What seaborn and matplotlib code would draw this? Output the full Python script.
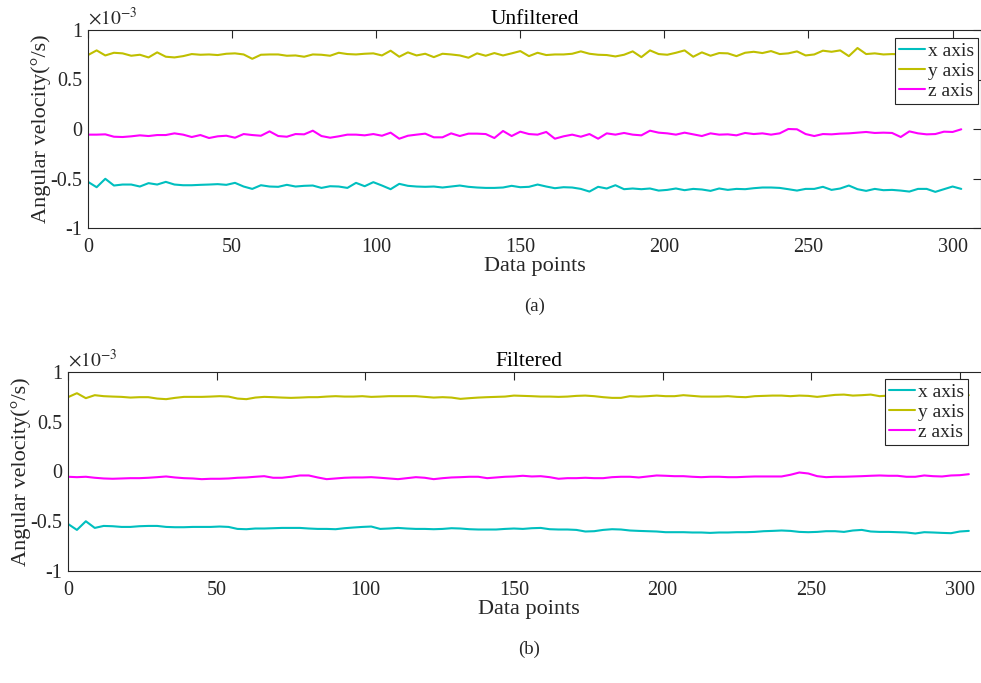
import matplotlib
matplotlib.use('Agg')
import matplotlib.pyplot as plt
from matplotlib.ticker import FuncFormatter
import numpy as np
import pandas as pd
import seaborn as sns

# data points 0, 3, ..., 303 ; angular velocity in units of 1e-3 deg/s
data_points = np.arange(102) * 3
scale = 1e-3

raw_x = [-0.534, -0.588, -0.503, -0.571, -0.561, -0.561, -0.581, -0.547, -0.561, -0.534,
         -0.561, -0.568, -0.568, -0.564, -0.561, -0.557, -0.564, -0.544, -0.581, -0.605,
         -0.568, -0.581, -0.584, -0.564, -0.581, -0.574, -0.571, -0.595, -0.578, -0.581,
         -0.595, -0.544, -0.578, -0.537, -0.571,
         -0.608, -0.554, -0.574, -0.581, -0.584, -0.581, -0.591, -0.581, -0.571, -0.584,
         -0.591, -0.595, -0.595, -0.591, -0.574, -0.588, -0.584, -0.561, -0.581, -0.598,
         -0.588, -0.591, -0.605, -0.632, -0.584, -0.601, -0.568, -0.608, -0.601, -0.608,
         -0.601, -0.622, -0.615,
         -0.601, -0.618, -0.605, -0.611, -0.625, -0.601, -0.615, -0.605, -0.608, -0.598,
         -0.591, -0.591, -0.595, -0.608, -0.622, -0.605, -0.605, -0.584, -0.615, -0.601,
         -0.571, -0.608, -0.625, -0.605, -0.618, -0.615, -0.622, -0.632, -0.605, -0.605,
         -0.635, -0.608, -0.581, -0.605]
raw_y = [0.747, 0.794, 0.743, 0.770, 0.764, 0.740, 0.750, 0.723, 0.774, 0.730,
         0.723, 0.736, 0.757, 0.750, 0.753, 0.747, 0.760, 0.764, 0.753, 0.709,
         0.750, 0.753, 0.753, 0.740, 0.743, 0.730, 0.753, 0.750, 0.740, 0.770,
         0.757, 0.753, 0.760, 0.764, 0.743,
         0.791, 0.730, 0.774, 0.743, 0.760, 0.726, 0.760, 0.753, 0.743, 0.720,
         0.764, 0.740, 0.767, 0.743, 0.764, 0.787, 0.736, 0.770, 0.747, 0.753,
         0.753, 0.760, 0.784, 0.760, 0.750, 0.747, 0.733, 0.750, 0.784, 0.726,
         0.794, 0.757, 0.750,
         0.770, 0.794, 0.730, 0.774, 0.740, 0.767, 0.764, 0.736, 0.770, 0.780,
         0.767, 0.787, 0.757, 0.764, 0.784, 0.743, 0.753, 0.791, 0.780, 0.794,
         0.736, 0.818, 0.757, 0.764, 0.753, 0.757, 0.755, 0.760, 0.750, 0.757,
         0.752, 0.760, 0.755, 0.758]
raw_z = [-0.057, -0.057, -0.054, -0.078, -0.081, -0.074, -0.064, -0.071, -0.061, -0.061,
         -0.044, -0.057, -0.081, -0.061, -0.091, -0.074, -0.068, -0.088, -0.051, -0.061,
         -0.068, -0.024, -0.071, -0.078, -0.051, -0.054, -0.017, -0.071, -0.088, -0.074,
         -0.057, -0.057, -0.064, -0.051, -0.068,
         -0.037, -0.098, -0.068, -0.057, -0.047, -0.084, -0.084, -0.044, -0.071, -0.047,
         -0.047, -0.051, -0.091, -0.020, -0.071, -0.027, -0.051, -0.057, -0.030, -0.098,
         -0.074, -0.057, -0.078, -0.051, -0.098, -0.044, -0.057, -0.040, -0.057, -0.064,
         -0.017, -0.037, -0.044,
         -0.057, -0.037, -0.054, -0.071, -0.044, -0.057, -0.054, -0.064, -0.040, -0.051,
         -0.044, -0.057, -0.044, 0.000, -0.003, -0.051, -0.071, -0.051, -0.054, -0.047,
         -0.044, -0.037, -0.030, -0.040, -0.037, -0.040, -0.081, -0.024, -0.044, -0.054,
         -0.051, -0.027, -0.030, -0.003]

filt_x = [-0.527, -0.587, -0.500, -0.567, -0.547, -0.550, -0.557, -0.557, -0.550, -0.547,
          -0.547, -0.557, -0.560, -0.560, -0.557, -0.557, -0.557, -0.553, -0.557, -0.577,
          -0.580, -0.573, -0.573, -0.570, -0.567, -0.567, -0.567, -0.573, -0.577, -0.577,
          -0.580, -0.570, -0.563, -0.557, -0.553,
          -0.577, -0.573, -0.567, -0.573, -0.577, -0.577, -0.580, -0.577, -0.570, -0.573,
          -0.580, -0.583, -0.583, -0.583, -0.577, -0.573, -0.577, -0.570, -0.567, -0.580,
          -0.583, -0.583, -0.587, -0.603, -0.600, -0.587, -0.580, -0.583, -0.593, -0.597,
          -0.600, -0.603, -0.610,
          -0.610, -0.610, -0.613, -0.613, -0.617, -0.613, -0.613, -0.610, -0.610, -0.607,
          -0.600, -0.597, -0.593, -0.597, -0.607, -0.610, -0.607, -0.600, -0.600, -0.607,
          -0.593, -0.587, -0.603, -0.607, -0.607, -0.610, -0.613, -0.623, -0.610, -0.613,
          -0.617, -0.620, -0.603, -0.597]
filt_y = [0.747, 0.787, 0.737, 0.767, 0.757, 0.753, 0.750, 0.743, 0.747, 0.747,
          0.733, 0.727, 0.740, 0.750, 0.750, 0.750, 0.753, 0.757, 0.753, 0.733,
          0.727, 0.743, 0.750, 0.747, 0.743, 0.740, 0.743, 0.747, 0.747, 0.753,
          0.757, 0.753, 0.753, 0.757, 0.750,
          0.753, 0.757, 0.757, 0.757, 0.757, 0.750, 0.743, 0.747, 0.743, 0.730,
          0.737, 0.743, 0.747, 0.750, 0.753, 0.763, 0.760, 0.757, 0.753, 0.753,
          0.750, 0.753, 0.760, 0.763, 0.757, 0.747, 0.740, 0.740, 0.757, 0.753,
          0.757, 0.763, 0.757,
          0.757, 0.767, 0.760, 0.753, 0.753, 0.753, 0.757, 0.750, 0.747, 0.757,
          0.760, 0.763, 0.763, 0.757, 0.763, 0.760, 0.750, 0.760, 0.770, 0.773,
          0.763, 0.767, 0.773, 0.757, 0.763, 0.760, 0.765, 0.760, 0.762, 0.765,
          0.760, 0.762, 0.765, 0.767]
filt_z = [-0.053, -0.057, -0.053, -0.063, -0.070, -0.073, -0.070, -0.067, -0.067, -0.063,
          -0.057, -0.050, -0.060, -0.067, -0.070, -0.077, -0.073, -0.073, -0.070, -0.063,
          -0.060, -0.053, -0.047, -0.063, -0.063, -0.053, -0.040, -0.040, -0.060, -0.077,
          -0.070, -0.063, -0.060, -0.060, -0.057,
          -0.063, -0.070, -0.077, -0.067, -0.057, -0.063, -0.077, -0.067, -0.060, -0.057,
          -0.053, -0.053, -0.067, -0.060, -0.053, -0.050, -0.043, -0.050, -0.047, -0.057,
          -0.073, -0.067, -0.067, -0.063, -0.067, -0.067, -0.057, -0.053, -0.053, -0.060,
          -0.050, -0.040, -0.043,
          -0.047, -0.047, -0.053, -0.057, -0.053, -0.053, -0.057, -0.057, -0.053, -0.050,
          -0.050, -0.050, -0.050, -0.033, -0.010, -0.020, -0.047, -0.057, -0.053, -0.053,
          -0.050, -0.047, -0.043, -0.040, -0.043, -0.043, -0.053, -0.053, -0.040, -0.047,
          -0.050, -0.040, -0.037, -0.027]

axis_names = ['x axis', 'y axis', 'z axis']
colors = ['#00bfbf', '#bfbf00', '#ff00ff']
panel_titles = ['Unfiltered', 'Filtered']
captions = ['(a)', '(b)']


def long_frame(xs, ys, zs):
    frames = []
    for name, vals in zip(axis_names, [xs, ys, zs]):
        frames.append(pd.DataFrame({'point': data_points,
                                    'value': np.array(vals) * scale,
                                    'axis': name}))
    return pd.concat(frames, ignore_index=True)


sns.set_theme(style='white')
plt.rcParams['font.family'] = ['Liberation Serif', 'DejaVu Serif']
plt.rcParams['mathtext.fontset'] = 'stix'
plt.rcParams['axes.edgecolor'] = '#262626'
plt.rcParams['axes.linewidth'] = 0.8

fig = plt.figure(figsize=(9.81, 6.83), dpi=100)
W, H = 981, 683

# axes boxes in pixel terms: left, top, px per x unit, height
boxes = [(88, 30, 2.882, 198), (68, 372, 2.973, 199)]
legend_anchor = [(978, 38), (968, 379)]

for i, (xs, ys, zs) in enumerate([(raw_x, raw_y, raw_z), (filt_x, filt_y, filt_z)]):
    left, top, pxu, h = boxes[i]
    ax = fig.add_axes([left / W, 1 - (top + h) / H, 310 * pxu / W, h / H])
    df = long_frame(xs, ys, zs)
    sns.lineplot(data=df, x='point', y='value', hue='axis', palette=colors,
                 linewidth=1.5, ax=ax, legend=False)
    ax.set_xlim(0, 310)
    ax.set_ylim(-1e-3, 1e-3)
    ax.set_xticks([0, 50, 100, 150, 200, 250, 300])
    ax.set_yticks([-1e-3, -0.5e-3, 0, 0.5e-3, 1e-3])
    ax.yaxis.set_major_formatter(FuncFormatter(lambda v, p: '%g' % round(v / scale, 3)))
    ax.tick_params(direction='in', length=6, width=0.8, top=True, right=True,
                   labelsize=14.5, colors='#262626')
    ax.tick_params(axis='x', pad=7)
    ax.tick_params(axis='y', pad=4)
    for sp in ax.spines.values():
        sp.set_visible(True)
    ax.set_xlabel('Data points', fontsize=16, labelpad=0, color='#262626')
    ax.set_ylabel('Angular velocity(°/s)', fontsize=16, labelpad=0, color='#262626')
    ax.set_title(panel_titles[i], fontsize=15.5, pad=4, color='black')
    ax.text(0.0, 1.005, r'$\times10^{-3}$', transform=ax.transAxes, fontsize=14,
            ha='left', va='bottom', color='#262626')
    leg = ax.legend(ax.get_lines()[:3], axis_names, loc='upper right',
                    bbox_to_anchor=(legend_anchor[i][0] / W, 1 - legend_anchor[i][1] / H),
                    bbox_transform=fig.transFigure, borderaxespad=0, fontsize=14,
                    handlelength=1.35, handletextpad=0.12, labelspacing=0.12,
                    borderpad=0.22, fancybox=False, framealpha=1)
    leg.get_frame().set_edgecolor('#262626')
    leg.get_frame().set_linewidth(0.8)
    fig.text((left + 155 * pxu) / W, 1 - (top + h + 78) / H, captions[i],
             ha='center', va='center', fontsize=13.5)

fig.savefig('out.png', dpi=100)
